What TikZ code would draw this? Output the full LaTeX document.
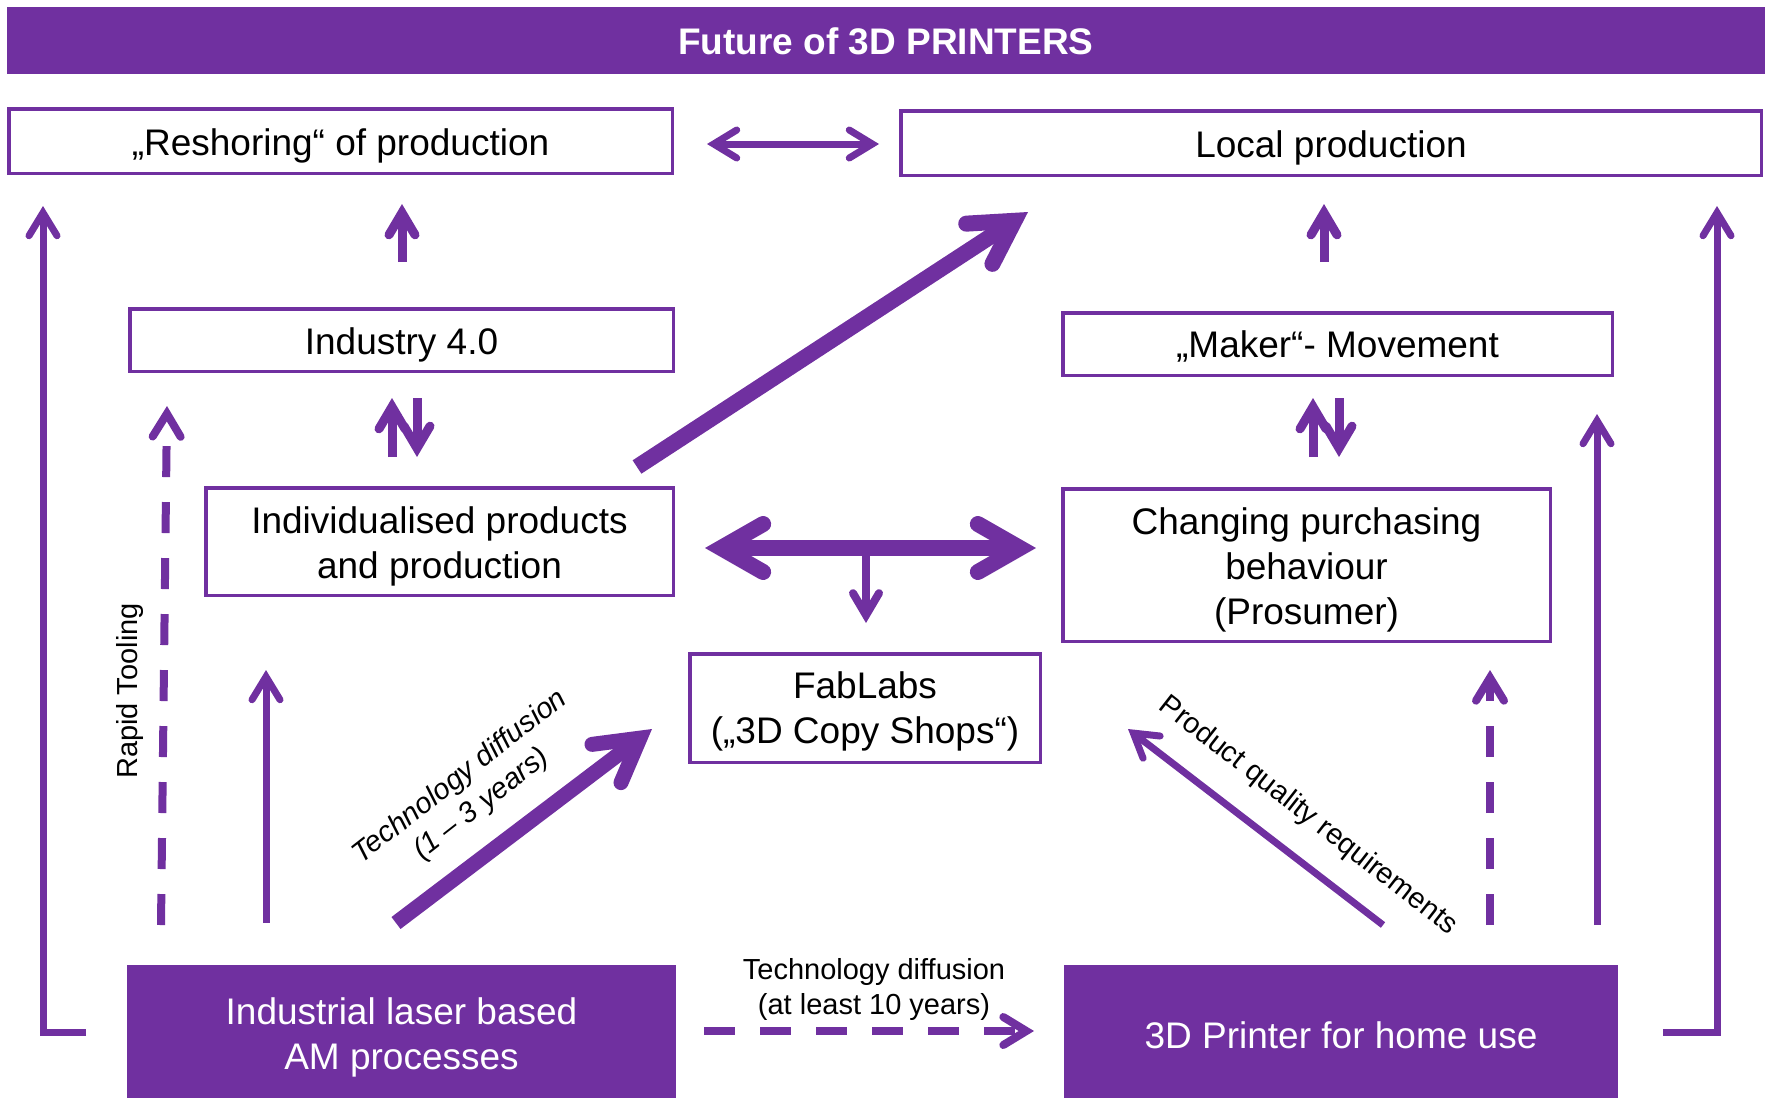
\documentclass[tikz,border=0pt]{standalone}
\usepackage{fontspec}
\setmainfont{Liberation Sans}
\usetikzlibrary{arrows.meta}
\definecolor{pur}{HTML}{7030A0}
\begin{document}
\begin{tikzpicture}[x=0.5pt,y=-0.5pt,
  box/.style={draw=pur, line width=1.75pt, fill=white, inner sep=0pt},
  fbox/.style={fill=pur, draw=none, inner sep=0pt},
  txt/.style={inner sep=0pt, align=center, font=\fontsize{18.5}{22.5}\selectfont, text=black},
  wtxt/.style={txt, text=white},
  lbl/.style={inner sep=0pt, align=center, font=\fontsize{14.5}{17.5}\selectfont, text=black},
  bigarr/.style={draw=pur, line width=8pt,
    -{Straight Barb[length=21pt,width=24pt,line cap=round,line join=miter]}},
  thinarr/.style={draw=pur, line width=3.5pt,
    -{Straight Barb[length=11.5pt,width=14pt,line cap=round,line join=miter]}},
  midarr/.style={draw=pur, line width=4.5pt,
    -{Straight Barb[length=11pt,width=13pt,line cap=round,line join=miter]}},
  dasharr/.style={draw=pur, line width=4pt, dash pattern=on 15.5pt off 12.5pt,
    -{Straight Barb[length=11.5pt,width=14pt,line cap=round,line join=miter]}}
]
\useasboundingbox (0,0) rectangle (1765,1098);

% title
\node[fbox, minimum width=879pt, minimum height=33.5pt] (title) at (886,40.5) {};
\node[wtxt, font=\fontsize{18.5}{22.5}\selectfont\bfseries] (titleT) at ([yshift=-0.6pt]title.center) {Future of 3D PRINTERS};

% boxes
\node[box, minimum width=331.75pt, minimum height=32.25pt] (resh) at (340.5,141) {};
\node[txt] (reshT) at ([yshift=-2.25pt]resh.center) {„Reshoring“ of production};
\node[box, minimum width=430.25pt, minimum height=32.25pt] (local) at (1331,143) {};
\node[txt] (localT) at ([yshift=-2.25pt]local.center) {Local production};
\node[box, minimum width=271.75pt, minimum height=31.25pt] (ind40) at (401.5,340) {};
\node[txt] (ind40T) at ([yshift=-2.25pt]ind40.center) {Industry 4.0};
\node[box, minimum width=274.75pt, minimum height=31.25pt] (maker) at (1337.5,344) {};
\node[txt] (makerT) at ([yshift=-1.2pt]maker.center) {„Maker“- Movement};
\node[box, minimum width=233.75pt, minimum height=53.75pt] (indiv) at (439.5,541.5) {};
\node[txt] (indivT) at ([yshift=-2.5pt]indiv.center) {Individualised products\\and production};
\node[box, minimum width=243.75pt, minimum height=76.25pt] (chg) at (1306.5,565) {};
\node[txt] (chgT) at ([yshift=-2.25pt]chg.center) {Changing purchasing\\behaviour\\(Prosumer)};
\node[box, minimum width=175.25pt, minimum height=54.25pt] (fab) at (865,708) {};
\node[txt] (fabT) at ([yshift=-1.7pt]fab.center) {FabLabs\\(„3D Copy Shops“)};
\node[fbox, minimum width=274.5pt, minimum height=66.5pt] (laser) at (401.5,1031.5) {};
\node[wtxt] (laserT) at ([yshift=-3.2pt]laser.center) {Industrial laser based\\AM processes};
\node[fbox, minimum width=277pt, minimum height=66.5pt] (home) at (1341,1031.5) {};
\node[wtxt] (homeT) at ([yshift=-1.7pt]home.center) {3D Printer for home use};

% coordinates for connector ends
\coordinate (rlL) at (707,144);
\coordinate (rlR) at (879,144);
\coordinate (reshA) at (402,262);
\coordinate (reshB) at (402,204);
\coordinate (locA) at (1324,262);
\coordinate (locB) at (1324,204);
\coordinate (i40u1) at (392,457);
\coordinate (i40u2) at (392,398);
\coordinate (i40d1) at (417,398);
\coordinate (i40d2) at (417,457);
\coordinate (mku1) at (1313,457);
\coordinate (mku2) at (1313,398);
\coordinate (mkd1) at (1339,398);
\coordinate (mkd2) at (1339,457);
\coordinate (diagA) at (637,467);
\coordinate (diagB) at (1028,212);
\coordinate (hL) at (705,548);
\coordinate (hR) at (1036,548);
\coordinate (hM) at (866,548);
\coordinate (hD) at (866,623);
\coordinate (fdA) at (396,923);
\coordinate (fdB) at (652,729);
\coordinate (upLA) at (266,923);
\coordinate (upLB) at (266,670);
\coordinate (rtA) at (161,925);
\coordinate (rtB) at (167,406);
\coordinate (outLA) at (86,1032);
\coordinate (outLB) at (43,206);
\coordinate (outRA) at (1663,1032);
\coordinate (outRB) at (1717,206);
\coordinate (pqA) at (1383,925);
\coordinate (pqB) at (1128,729);
\coordinate (dRA) at (1490,925);
\coordinate (dRB) at (1490,670);
\coordinate (upRA) at (1597,925);
\coordinate (upRB) at (1597,414);
\coordinate (bdA) at (704,1031);
\coordinate (bdB) at (1034,1031);

% connectors
\draw[thinarr, {Straight Barb[length=11.5pt,width=14pt,line cap=round,line join=miter]}-{Straight Barb[length=11.5pt,width=14pt,line cap=round,line join=miter]}] (rlL) -- (rlR);
\draw[midarr] (reshA) -- (reshB);
\draw[midarr] (locA) -- (locB);
\draw[midarr] (i40u1) -- (i40u2);
\draw[midarr] (i40d1) -- (i40d2);
\draw[midarr] (mku1) -- (mku2);
\draw[midarr] (mkd1) -- (mkd2);
\draw[bigarr] (diagA) -- (diagB);
\draw[bigarr, {Straight Barb[length=21pt,width=24pt,line cap=round,line join=miter]}-{Straight Barb[length=21pt,width=24pt,line cap=round,line join=miter]}] (hL) -- (hR);
\draw[midarr, line width=4pt] (hM) -- (hD);
\draw[bigarr, line width=7.5pt] (fdA) -- (fdB);
\draw[thinarr] (upLA) -- (upLB);
\draw[dasharr] (rtA) -- (rtB);
\draw[thinarr] (outLA) -| (outLB);
\draw[thinarr] (outRA) -| (outRB);
\draw[thinarr] (pqA) -- (pqB);
\draw[dasharr] (dRA) -- (dRB);
\draw[thinarr] (upRA) -- (upRB);
\draw[dasharr] (bdA) -- (bdB);

% labels
\node[lbl, rotate=90] (lrt) at (130,691) {Rapid Tooling};
\node[lbl, rotate=38, font=\fontsize{14.5}{17.5}\selectfont\itshape] (ltd) at (471,791) {Technology diffusion\\(1 – 3 years)};
\node[lbl, rotate=-38] (lpq) at (1308,816) {Product quality requirements};
\node[lbl] (ltd2) at (874,989) {Technology diffusion\\(at least 10 years)};
\end{tikzpicture}
\end{document}
